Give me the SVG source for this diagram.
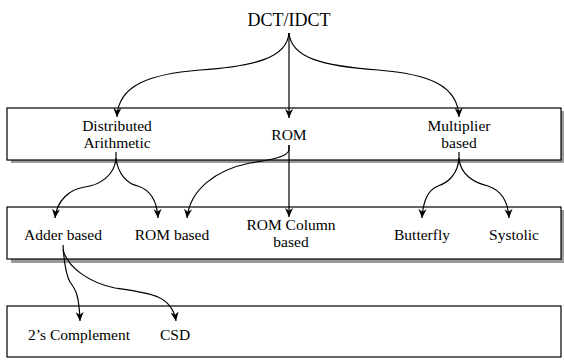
<svg xmlns="http://www.w3.org/2000/svg" width="564" height="360" viewBox="0 0 564 360">
<defs>
<marker id="ah" viewBox="0 0 10 10" refX="10" refY="5" markerWidth="9" markerHeight="9" markerUnits="userSpaceOnUse" orient="auto">
<path d="M0,0.5 L10,5 L0,9.5 L3,5 Z" fill="#000"/>
</marker>
</defs>
<style>
.box{fill:#fff;stroke:#000;stroke-width:1.2}
.sh{fill:#9a9a9a}
.t{font-family:"Liberation Serif","Times New Roman",serif;font-size:15.5px;fill:#000;text-anchor:middle}
.big{font-size:18px}
.c{fill:none;stroke:#000;stroke-width:1.2;marker-end:url(#ah)}
</style>
<rect width="564" height="360" fill="#fff"/>
<g id="root"><text class="t big" x="289" y="26">DCT/IDCT</text></g>
<g id="level1">
<rect class="sh" x="11" y="111" width="553" height="52"/>
<rect class="box" x="7" y="108" width="554" height="52"/>
</g>
<g id="level2">
<rect class="sh" x="11" y="210" width="553" height="53"/>
<rect class="box" x="7" y="207" width="554" height="52"/>
</g>
<g id="level3">
<rect class="box" x="7" y="306" width="554" height="51"/>
</g>
<g id="distributed-arithmetic"><text class="t" x="117" y="131">Distributed</text><text class="t" x="117" y="148">Arithmetic</text></g>
<g id="rom"><text class="t" x="289" y="140">ROM</text></g>
<g id="multiplier-based"><text class="t" x="459" y="131">Multiplier</text><text class="t" x="459" y="148">based</text></g>
<g id="adder-based"><text class="t" x="63" y="240">Adder based</text></g>
<g id="rom-based"><text class="t" x="172" y="240">ROM based</text></g>
<g id="rom-column-based"><text class="t" x="291" y="230">ROM Column</text><text class="t" x="291" y="247">based</text></g>
<g id="butterfly"><text class="t" x="422" y="240">Butterfly</text></g>
<g id="systolic"><text class="t" x="514" y="240">Systolic</text></g>
<g id="twos-complement"><text class="t" x="79" y="340">2’s Complement</text></g>
<g id="csd"><text class="t" x="175" y="340">CSD</text></g>
<g id="connectors">
<path class="c" d="M289,33 C287,58 255,66 200,70 C150,74 118,85 117,117"/>
<path class="c" d="M289,33 L289,118"/>
<path class="c" d="M289,33 C291,58 323,66 378,70 C428,74 458,85 459,117"/>
<path class="c" d="M116,152 L116,158 C115,175 100,185 85,187 C70,189 57,200 55,218"/>
<path class="c" d="M116,158 C118,175 128,184 138,186 C150,190 157,200 158,218"/>
<path class="c" d="M289,145 L289,217"/>
<path class="c" d="M289,145 L289,150 C288,157 270,160 250,163 C215,170 190,190 187,218"/>
<path class="c" d="M459,152 L459,158 C458,175 447,183 438,186 C428,190 423,200 422,218"/>
<path class="c" d="M459,158 C460,175 475,183 488,186 C500,190 508,200 509,218"/>
<path class="c" d="M63,245 C64,262 66,275 70,282 C76,290 79,295 80,321"/>
<path class="c" d="M63,250 C68,268 90,283 115,288 C150,293 172,295 176,321"/>
</g>
</svg>
